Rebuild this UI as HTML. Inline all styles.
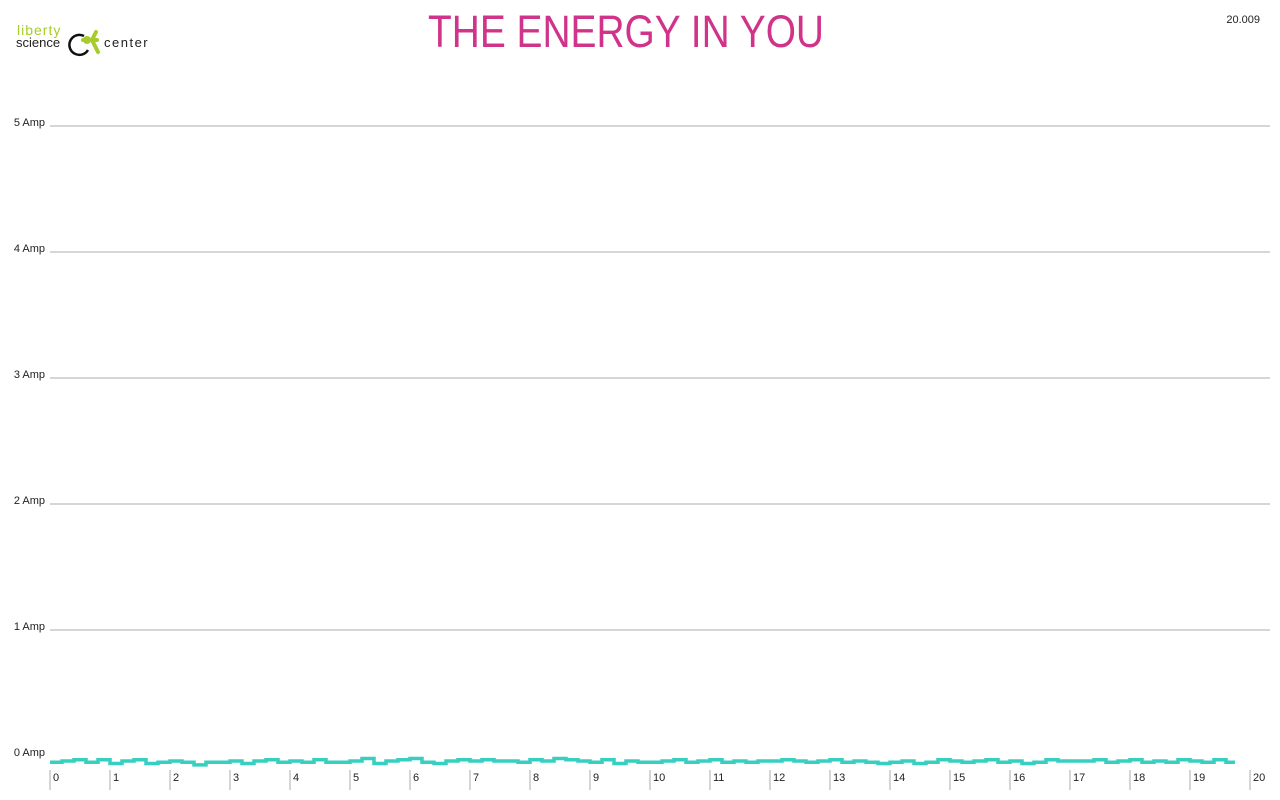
<!DOCTYPE html>
<html><head><meta charset="utf-8"><style>
html,body{margin:0;padding:0;background:#fff;width:1280px;height:800px;overflow:hidden}
svg{display:block;font-family:"Liberation Sans",sans-serif}
</style></head><body>
<svg id="chart" width="1280" height="800" viewBox="0 0 1280 800">
  <g>
    <text x="17" y="35" font-size="14" fill="#a8cc2a" letter-spacing="1">liberty</text>
    <text x="16" y="47" font-size="13" fill="#222">science</text>
    <path d="M84 36 A10 10 0 1 0 88 50" stroke="#111" stroke-width="2.5" fill="none"/>
    <circle cx="87" cy="40" r="4" fill="#a8cc2a"/>
    <path d="M83 40 L97 40 M96 32 L92 40 L98 52" stroke="#a8cc2a" stroke-width="4" fill="none" stroke-linecap="round"/>
    <text x="104" y="47" font-size="13" fill="#222" letter-spacing="1.5">center</text>
  </g>
  <text x="428" y="47" font-size="45" fill="#d0348a" textLength="396" lengthAdjust="spacingAndGlyphs">THE ENERGY IN YOU</text>
  <text x="1260" y="23" font-size="11" fill="#222" text-anchor="end">20.009</text>
  <g id="grid"></g>
  <g id="xaxis"></g>
  <path id="series" fill="none" stroke="#36cfc0" stroke-width="3.5"/>
</svg>
<script>
const yTicks=[0,1,2,3,4,5];
const yLabels=["0 Amp","1 Amp","2 Amp","3 Amp","4 Amp","5 Amp"];
const xTicks=[0,1,2,3,4,5,6,7,8,9,10,11,12,13,14,15,16,17,18,19,20];
const times=[0,0.2,0.4,0.6,0.8,1,1.2,1.4,1.6,1.8,2,2.2,2.4,2.6,2.8,3,3.2,3.4,3.6,3.8,4,4.2,4.4,4.6,4.8,5,5.2,5.4,5.6,5.8,6,6.2,6.4,6.6,6.8,7,7.2,7.4,7.6,7.8,8,8.2,8.4,8.6,8.8,9,9.2,9.4,9.6,9.8,10,10.2,10.4,10.6,10.8,11,11.2,11.4,11.6,11.8,12,12.2,12.4,12.6,12.8,13,13.2,13.4,13.6,13.8,14,14.2,14.4,14.6,14.8,15,15.2,15.4,15.6,15.8,16,16.2,16.4,16.6,16.8,17,17.2,17.4,17.6,17.8,18,18.2,18.4,18.6,18.8,19,19.2,19.4,19.6,19.75];
const amps=[-0.05,-0.04,-0.03,-0.05,-0.03,-0.06,-0.04,-0.03,-0.06,-0.05,-0.04,-0.05,-0.07,-0.05,-0.05,-0.04,-0.06,-0.04,-0.03,-0.05,-0.04,-0.05,-0.03,-0.05,-0.05,-0.04,-0.02,-0.06,-0.04,-0.03,-0.02,-0.05,-0.06,-0.04,-0.03,-0.04,-0.03,-0.04,-0.04,-0.05,-0.03,-0.04,-0.02,-0.03,-0.04,-0.05,-0.03,-0.06,-0.04,-0.05,-0.05,-0.04,-0.03,-0.05,-0.04,-0.03,-0.05,-0.04,-0.05,-0.04,-0.04,-0.03,-0.04,-0.05,-0.04,-0.03,-0.05,-0.04,-0.05,-0.06,-0.05,-0.04,-0.06,-0.05,-0.03,-0.04,-0.05,-0.04,-0.03,-0.05,-0.04,-0.06,-0.05,-0.03,-0.04,-0.04,-0.04,-0.03,-0.05,-0.04,-0.03,-0.05,-0.04,-0.05,-0.03,-0.04,-0.05,-0.03,-0.05];
const NS="http://www.w3.org/2000/svg";
const x=t=>50+t*60;
const y=v=>756-v*126;
const grid=document.getElementById('grid');
yTicks.forEach((v,i)=>{
  if(v>0){
    const l=document.createElementNS(NS,'line');
    l.setAttribute('x1',50);l.setAttribute('x2',1270);
    l.setAttribute('y1',y(v));l.setAttribute('y2',y(v));
    l.setAttribute('stroke','#c8c8c8');l.setAttribute('stroke-width','1.5');
    
    
    grid.appendChild(l);
  }
  const t=document.createElementNS(NS,'text');
  t.setAttribute('x',45);t.setAttribute('y',y(v)-0);
  t.setAttribute('text-anchor','end');t.setAttribute('font-size','11');t.setAttribute('fill','#222');
  t.textContent=yLabels[i];
  
  
  grid.appendChild(t);
});
const xa=document.getElementById('xaxis');
xTicks.forEach(v=>{
  const l=document.createElementNS(NS,'line');
  l.setAttribute('x1',x(v));l.setAttribute('x2',x(v));
  l.setAttribute('y1',770);l.setAttribute('y2',790);
  l.setAttribute('stroke','#c8c8c8');l.setAttribute('stroke-width','1.5');
  
  
  xa.appendChild(l);
  const t=document.createElementNS(NS,'text');
  t.setAttribute('x',x(v)+3);t.setAttribute('y',781);
  t.setAttribute('font-size','11');t.setAttribute('fill','#222');
  t.textContent=String(v);
  
  
  xa.appendChild(t);
});
let d='';
times.forEach((t,i)=>{
  if(i===0) d+='M'+x(t)+' '+y(amps[i]);
  else d+=' H'+x(t)+' V'+y(amps[i]);
});
document.getElementById('series').setAttribute('d',d);
</script>
</body></html>
